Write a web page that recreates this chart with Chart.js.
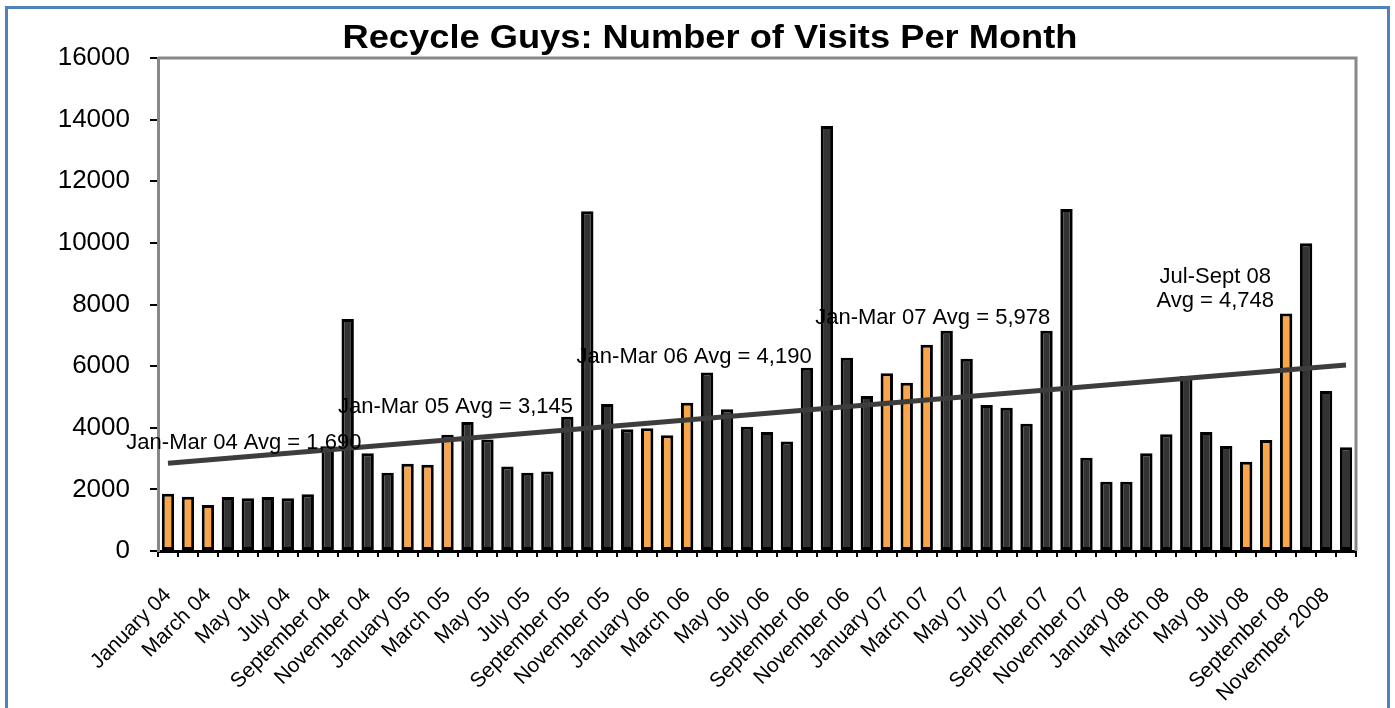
<!DOCTYPE html>
<html>
<head>
<meta charset="utf-8">
<title>Recycle Guys: Number of Visits Per Month</title>
<script src="https://cdn.jsdelivr.net/npm/chart.js@4"></script>
<style>
    html, body { margin: 0; padding: 0; background: #ffffff; }
    #wrap { position: relative; width: 1395px; height: 708px; }
</style>
</head>
<body>
<div id="wrap"><canvas id="visitsChart"></canvas></div>
<script>
// Month labels (only every other one is shown on the axis, like the original)
const months = [
    'January 04', 'February 04', 'March 04', 'April 04', 'May 04', 'June 04',
    'July 04', 'August 04', 'September 04', 'October 04', 'November 04', 'December 04',
    'January 05', 'February 05', 'March 05', 'April 05', 'May 05', 'June 05',
    'July 05', 'August 05', 'September 05', 'October 05', 'November 05', 'December 05',
    'January 06', 'February 06', 'March 06', 'April 06', 'May 06', 'June 06',
    'July 06', 'August 06', 'September 06', 'October 06', 'November 06', 'December 06',
    'January 07', 'February 07', 'March 07', 'April 07', 'May 07', 'June 07',
    'July 07', 'August 07', 'September 07', 'October 07', 'November 07', 'December 07',
    'January 08', 'February 08', 'March 08', 'April 08', 'May 08', 'June 08',
    'July 08', 'August 08', 'September 08', 'October 08', 'November 2008', 'December 2008'
];

// Visits per month
const visits = [
    1860, 1760, 1490, 1750, 1710, 1750, 1710, 1840, 3400, 7530, 3170, 2540,
    2830, 2800, 3770, 4190, 3620, 2740, 2540, 2580, 4360, 11030, 4770, 3950,
    3980, 3760, 4810, 5790, 4600, 4030, 3860, 3550, 5950, 13790, 6270, 5030,
    5770, 5460, 6690, 7150, 6240, 4740, 4650, 4130, 7150, 11100, 3030, 2250,
    2250, 3170, 3790, 5680, 3860, 3410, 2900, 3600, 7710, 9990, 5190, 3370
];

// Months whose bars are highlighted orange (the averaged quarters)
const highlighted = [
    'January 04', 'February 04', 'March 04',
    'January 05', 'February 05', 'March 05',
    'January 06', 'February 06', 'March 06',
    'January 07', 'February 07', 'March 07',
    'July 08', 'August 08', 'September 08'
];

// Linear trend line end values
const trendStart = 2850;
const trendEnd = 6040;

// Y axis ticks
const yTicks = [0, 2000, 4000, 6000, 8000, 10000, 12000, 14000, 16000];

// Quarter average notes: text lines, anchor month index, anchor value
const notes = [
    { lines: ['Jan-Mar 04 Avg = 1,690'], at: 3.8, value: 3500 },
    { lines: ['Jan-Mar 05 Avg = 3,145'], at: 14.4, value: 4670 },
    { lines: ['Jan-Mar 06 Avg = 4,190'], at: 26.35, value: 6290 },
    { lines: ['Jan-Mar 07 Avg = 5,978'], at: 38.3, value: 7560 },
    { lines: ['Jul-Sept 08', 'Avg = 4,748'], at: 52.45, value: 8500 }
];

const titleText = 'Recycle Guys: Number of Visits Per Month';

const ORANGE = '#F9A64B';
const DARK = '#333333';

const barColors = months.map(m => highlighted.includes(m) ? ORANGE : DARK);

// Frame, plot border, title and notes
const decorations = {
    id: 'decorations',
    beforeDraw(chart) {
        const ctx = chart.ctx;
        ctx.save();
        ctx.fillStyle = '#ffffff';
        ctx.fillRect(0, 0, chart.width, chart.height);
        ctx.strokeStyle = '#4F81BD';
        ctx.lineWidth = 3;
        ctx.strokeRect(6.5, 7.5, chart.width - 13, chart.height + 20);
        ctx.restore();
    },
    beforeDatasetsDraw(chart) {
        const a = chart.chartArea;
        const ctx = chart.ctx;
        ctx.save();
        ctx.strokeStyle = '#888888';
        ctx.lineWidth = 3;
        ctx.beginPath();
        ctx.moveTo(a.left, a.top);
        ctx.lineTo(a.right, a.top);
        ctx.lineTo(a.right, a.bottom);
        ctx.stroke();
        ctx.restore();
    },
    afterDatasetsDraw(chart) {
        const ctx = chart.ctx;
        const xs = chart.scales.x;
        const ys = chart.scales.y;
        ctx.save();
        ctx.fillStyle = '#000000';
        ctx.textAlign = 'center';
        ctx.textBaseline = 'middle';
        ctx.font = '22px "Liberation Sans", Arial, sans-serif';
        notes.forEach(n => {
            const x = xs.getPixelForValue(n.at);
            const y = ys.getPixelForValue(n.value);
            const lh = 24;
            const y0 = y - (n.lines.length - 1) * lh / 2;
            n.lines.forEach((t, i) => ctx.fillText(t, x, y0 + i * lh));
        });

        // title, squeezed to the original's narrow look
        ctx.font = 'bold 33px "Liberation Sans", Arial, sans-serif';
        const w = ctx.measureText(titleText).width;
        const sx = 735 / w;
        ctx.translate(710, 39);
        ctx.scale(sx, 1);
        ctx.fillText(titleText, 0, 0);
        ctx.restore();
    }
};

const ctx = document.getElementById('visitsChart').getContext('2d');
const visitsChart = new Chart(ctx, {
    type: 'bar',
    data: {
        labels: months,
        datasets: [{
            type: 'line',
            label: 'Trend',
            data: [
                { x: months[0], y: trendStart },
                { x: months[months.length - 1], y: trendEnd }
            ],
            borderColor: '#3d3d3d',
            borderWidth: 5,
            pointRadius: 0,
            fill: false,
            order: 0
        }, {
            label: 'Visits',
            data: visits,
            backgroundColor: barColors,
            borderColor: '#000000',
            borderWidth: 3,
            borderSkipped: false,
            barPercentage: 0.62,
            categoryPercentage: 1,
            order: 1
        }]
    },
    options: {
        responsive: true,
        maintainAspectRatio: false,
        animation: false,
        layout: {
            padding: { top: 58, right: 39, left: 0, bottom: 0 }
        },
        plugins: {
            legend: { display: false },
            tooltip: { enabled: false },
            title: { display: false }
        },
        scales: {
            x: {
                offset: true,
                afterFit: function(scale) { scale.height = 157; },
                grid: {
                    offset: true,
                    drawOnChartArea: false,
                    drawTicks: true,
                    tickLength: 6,
                    color: '#000000',
                    lineWidth: 2
                },
                border: { color: '#000000', width: 3 },
                ticks: {
                    autoSkip: false,
                    minRotation: 45,
                    maxRotation: 45,
                    padding: 26,
                    color: '#000000',
                    font: { family: '"Liberation Sans", Arial, sans-serif', size: 21 },
                    callback: function(value, index) {
                        return index % 2 === 0 ? months[index] : '';
                    }
                }
            },
            y: {
                min: 0,
                max: 16000,
                afterFit: function(scale) { scale.width = 158; },
                afterBuildTicks: function(scale) {
                    scale.ticks = yTicks.map(v => ({ value: v }));
                },
                grid: {
                    drawOnChartArea: false,
                    drawTicks: true,
                    tickLength: 8,
                    color: '#000000',
                    lineWidth: 2
                },
                border: { color: '#888888', width: 3 },
                ticks: {
                    padding: 20,
                    color: '#000000',
                    font: { family: '"Liberation Sans", Arial, sans-serif', size: 26 },
                    callback: function(value) { return String(value); }
                }
            }
        }
    },
    plugins: [decorations]
});
</script>
</body>
</html>
